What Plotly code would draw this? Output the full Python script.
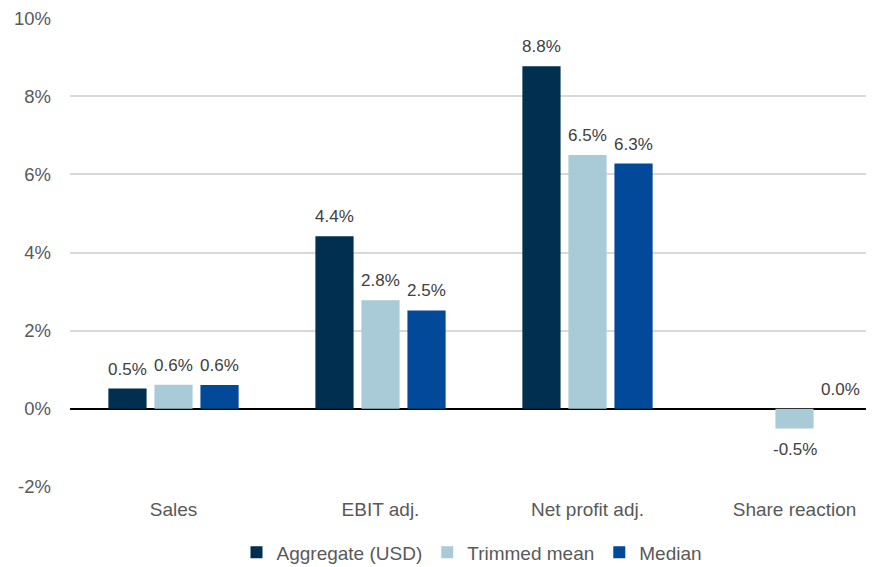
import plotly.graph_objects as go

categories = ["Sales", "EBIT adj.", "Net profit adj.", "Share reaction"]
aggregate = [0.52, 4.42, 8.77, None]
trimmed_mean = [0.62, 2.78, 6.50, -0.50]
median = [0.61, 2.52, 6.28, 0.0]
y_ticks = [-2, 0, 2, 4, 6, 8, 10]

series = [
    ("Aggregate (USD)", aggregate, "#002f50"),
    ("Trimmed mean", trimmed_mean, "#a9cbd8"),
    ("Median", median, "#03499a"),
]

FONT = "Liberation Sans, Arial, sans-serif"
SLOT = 46  # px between bar centres inside a group

fig = go.Figure()
for i, (name, vals, color) in enumerate(series):
    fig.add_trace(go.Bar(x=categories, y=vals, name=name, marker_color=color, marker_line_width=0))
    # data labels, placed as annotations so the gap above the bar matches
    for cat, v in zip(categories, vals):
        if v is None:
            continue
        fig.add_annotation(
            x=cat, y=v, text=f"{v:.1f}%", showarrow=False,
            xshift=(i - 1) * SLOT, yshift=8 if v >= 0 else -10,
            yanchor="bottom" if v >= 0 else "top",
            font=dict(size=17, color="#404040", family=FONT),
        )

fig.update_layout(
    barmode="group", bargap=0.333, bargroupgap=0.17,
    width=866, height=559, margin=dict(l=62, r=0, t=8, b=80),
    plot_bgcolor="white", paper_bgcolor="white",
    font=dict(family=FONT, color="#595959", size=18),
    legend=dict(orientation="h", x=0.5, xanchor="center", yref="container", y=0.026, yanchor="middle",
                font=dict(size=19, color="#595959"), itemwidth=30, traceorder="normal"),
)
fig.update_xaxes(range=[-0.5, 3.384], showgrid=False, ticks="", showline=False,
                 tickfont=dict(size=19, color="#595959"), ticklabelstandoff=9)
fig.update_yaxes(range=[-2, 10.004], tickvals=y_ticks, ticktext=[f"{t}%" for t in y_ticks],
                 ticklabeloverflow="allow",
                 showgrid=True, gridcolor="#d9d9d9", gridwidth=1.5,
                 zeroline=True, zerolinecolor="#000000", zerolinewidth=1.5,
                 tickfont=dict(size=18.5, color="#595959"), ticklabelstandoff=18)

fig.write_html("out.html")
